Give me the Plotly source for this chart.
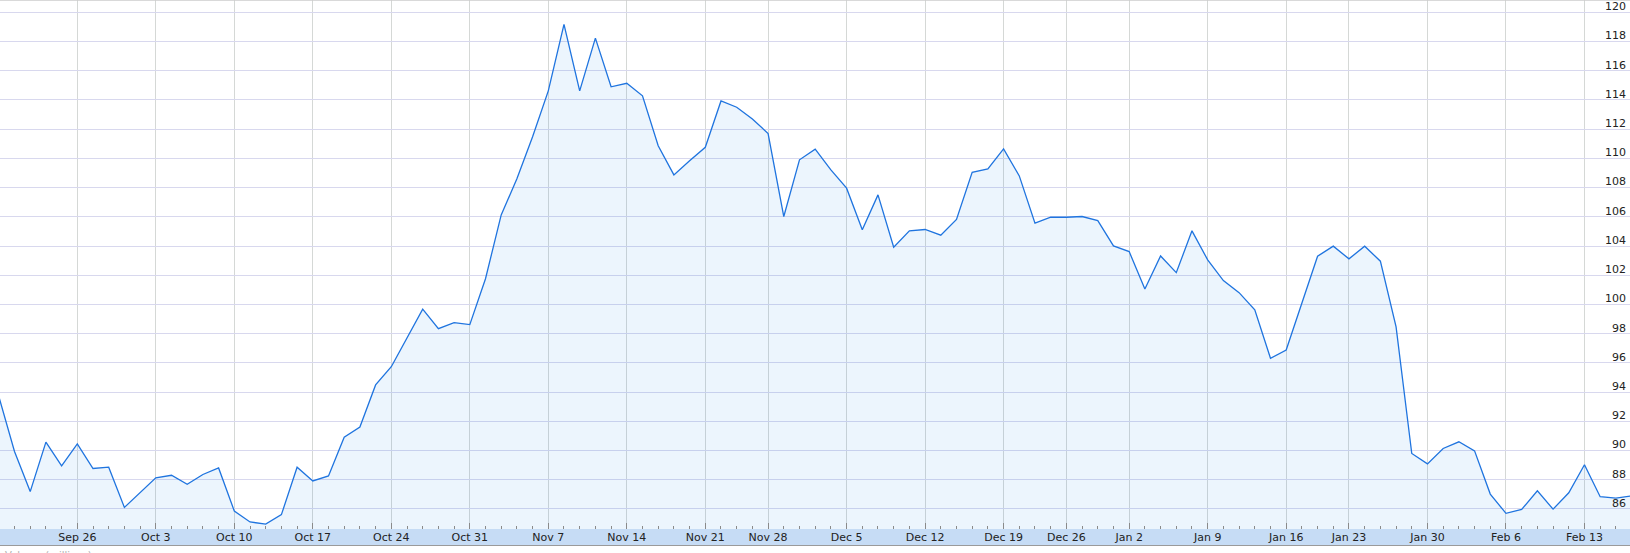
import plotly.graph_objects as go

# Closing prices, one per trading session (session index 0 = Sep 19)
prices = [
    93.71, 89.94, 87.19, 90.58, 88.95, 90.46, 88.77, 88.86, 86.11, 87.12,
    88.13, 88.31, 87.69, 88.36, 88.81, 85.86, 85.11, 84.97, 85.61, 88.86,
    87.92, 88.26, 90.91, 91.61, 94.49, 95.74, 97.75, 99.68, 98.34, 98.76,
    98.62, 101.76, 106.13, 108.60, 111.48, 114.62, 119.17, 114.62, 118.23, 114.90,
    115.14, 114.28, 110.86, 108.87, 109.83, 110.76, 113.93, 113.50, 112.70, 111.70,
    106.02, 109.90, 110.63, 109.21, 107.96, 105.11, 107.50, 103.92, 105.04, 105.13,
    104.74, 105.82, 109.05, 109.28, 110.65, 108.80, 105.56, 105.97, 105.97, 106.02,
    105.74, 104.01, 103.62, 101.06, 103.32, 102.18, 105.04, 103.05, 101.63, 100.81,
    99.63, 96.32, 96.88, 100.06, 103.30, 103.99, 103.12, 103.99, 102.96, 98.47,
    89.80, 89.09, 90.14, 90.60, 89.98, 87.02, 85.70, 85.97, 87.25, 85.99,
    87.11, 89.03, 86.84, 86.75, 86.90,
]
sessions = list(range(len(prices)))

# Week labels and the session index where each is drawn
week_labels = ["Sep 26", "Oct 3", "Oct 10", "Oct 17", "Oct 24", "Oct 31", "Nov 7",
               "Nov 14", "Nov 21", "Nov 28", "Dec 5", "Dec 12", "Dec 19", "Dec 26",
               "Jan 2", "Jan 9", "Jan 16", "Jan 23", "Jan 30", "Feb 6", "Feb 13"]
week_sessions = [5, 10, 15, 20, 25, 30, 35, 40, 45, 49, 54, 59, 64, 68,
                 72, 77, 82, 86, 91, 96, 101]

y_ticks = list(range(86, 121, 2))

FONT = "DejaVu Sans"

fig = go.Figure()
fig.add_trace(go.Scatter(
    x=sessions, y=prices, mode="lines",
    line=dict(color="#1f74df", width=1.3),
    fill="tozeroy", fillcolor="rgba(0,120,230,0.075)",
    hoverinfo="skip", showlegend=False,
))

fig.update_layout(
    width=1630, height=553,
    margin=dict(l=0, r=0, t=0, b=24, pad=0, autoexpand=False),
    paper_bgcolor="white", plot_bgcolor="white",
    font=dict(family=FONT, size=11, color="#333"),
    xaxis=dict(
        range=[0.076, 103.9], showline=False, zeroline=False, automargin=False,
        tickmode="array", tickvals=week_sessions, ticktext=week_labels,
        ticks="inside", ticklen=6, tickcolor="#8a8a8a", tickwidth=1,
        showgrid=True, gridcolor="#d5d8d6", gridwidth=1,
        tickfont=dict(family=FONT, size=11, color="#222"),
        minor=dict(tickmode="linear", tick0=0, dtick=1, ticks="inside",
                   ticklen=3, tickcolor="#8a8a8a", showgrid=False),
        fixedrange=True,
    ),
    yaxis=dict(
        range=[84.63, 120.84], side="right", showline=False, zeroline=False,
        automargin=False,
        tickmode="array", tickvals=y_ticks, ticktext=[str(v) for v in y_ticks],
        ticks="", ticklabelposition="inside", ticklabelshift=-6,
        ticklabeloverflow="allow", ticklabelstandoff=1,
        showgrid=True, gridcolor="#d8d8ee", gridwidth=1,
        tickfont=dict(family=FONT, size=11, color="#222"),
        fixedrange=True,
    ),
    shapes=[
        dict(type="rect", xref="paper", yref="paper", x0=0, x1=1,
             y0=-16 / 529, y1=0, fillcolor="#c6dcf5", line=dict(width=0), layer="below"),
        dict(type="line", xref="paper", yref="paper", x0=0, x1=1,
             y0=-16.5 / 529, y1=-16.5 / 529, line=dict(color="#9a9a9a", width=1)),
        dict(type="line", xref="paper", yref="paper", x0=0, x1=1,
             y0=1, y1=1, line=dict(color="#cccccc", width=1.5)),
    ],
    annotations=[
        dict(text="Volume (millions)", xref="paper", yref="paper", x=0.002,
             y=-18.5 / 529, xanchor="left", yanchor="top", showarrow=False,
             font=dict(family=FONT, size=10, color="#b0b0b0")),
    ],
)

fig.write_html(
    "out.html",
    config={"displayModeBar": False, "staticPlot": True},
    post_script="document.body.style.margin='0';document.body.style.overflow='hidden';",
)
